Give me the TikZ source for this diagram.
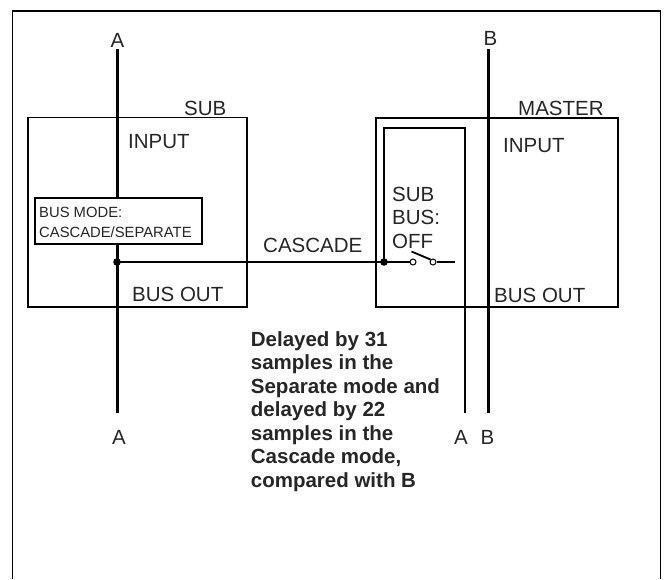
\documentclass[tikz,border=0pt]{standalone}
\usepackage{fontspec}
\setmainfont{Liberation Sans}
\usetikzlibrary{positioning,calc}

\begin{document}
\begin{tikzpicture}[x=1pt,y=-1pt,
  bus/.style={line width=3pt},
  lbl/.style={font=\fontsize{20.5}{23.5}\selectfont,inner sep=0pt,text=black!85},
  small/.style={font=\fontsize{14.8}{20}\selectfont,inner sep=0pt,text=black!85},
  note/.style={font=\fontsize{20.5}{23.5}\selectfont\bfseries,inner sep=0pt,align=left,text=black!85},
  contact/.style={circle,draw,line width=1pt,fill=white,inner sep=0pt,minimum size=6pt}]
\useasboundingbox (0,0) rectangle (664,579);
\draw[line width=1.1pt] (12.5,579) |- (660.5,11) -- (660.5,579);

% units
\node[draw,line width=1.2pt,minimum width=219pt,minimum height=189.5pt] (sub) at (137.5,212.25) {};
\node[draw,line width=1.2pt,minimum width=242pt,minimum height=189pt] (master) at (497,212.5) {};
\node[lbl,anchor=base west] (subname) at (184,115) {SUB};
\node[lbl,anchor=base west] (mastername) at (518,115) {MASTER};
\node[lbl,anchor=base west] (subin) at (128,148) {INPUT};
\node[lbl,anchor=base west] (subout) at (132,301) {BUS OUT};
\node[lbl,anchor=base west] (masterin) at (503,152) {INPUT};
\node[lbl,anchor=base west] (masterout) at (494,302) {BUS OUT};

% bus A through the sub
\coordinate (atop) at (117,49);
\coordinate (abot) at (117,413);
\coordinate (ja) at (117,262);
\draw[bus] (atop) -- (abot);
\node[lbl,anchor=base] (alabel) at (117.5,47) {A};
\node[lbl,anchor=base] (alabel2) at (119,444) {A};

% bus B through the master
\coordinate (btop) at (488,49);
\coordinate (bbot) at (488,413);
\draw[bus] (btop) -- (bbot);
\node[lbl,anchor=base] (blabel) at (490.5,45.5) {B};

\node[draw,line width=1.8pt,fill=white,minimum width=167pt,minimum height=46pt,anchor=north west] (mode) at (34,197) {};
\node[small,anchor=base west] (mode1) at (39,217) {BUS MODE:};
\node[small,anchor=base west] (mode2) at (39,237) {CASCADE/SEPARATE};

% cascade link and switch
\coordinate (jb) at (384,262);
\node[contact] (sw1) at (413,262) {};
\node[contact] (sw2) at (433,262) {};
\coordinate (swend) at (454.5,262);
\coordinate (lever) at (411.5,251.5);
\draw[line width=2.7pt] (ja) -- (jb);
\draw[line width=2.7pt] (jb) -- (sw1);
\draw[line width=2.7pt] (sw2) -- (swend);
\draw[line width=1.8pt] (lever) -- (sw2.north west);
\draw[line width=2.7pt] (jb) |- (465,128) coordinate (corner) -- (465,413) coordinate (a2bot);
\fill (ja) circle (3.8pt);
\fill (jb) circle (3.8pt);
\node[lbl,anchor=base west] (casc) at (263,252) {CASCADE};
\node[lbl,anchor=base west] (off1) at (392,201) {SUB};
\node[lbl,anchor=base west] (off2) at (392,224.5) {BUS:};
\node[lbl,anchor=base west] (off3) at (392,248) {OFF};

\node[lbl,anchor=base] (alabel3) at (461,444) {A};
\node[lbl,anchor=base] (blabel2) at (487.5,444) {B};

\node[note,anchor=north west] (delay) at (250.7,331) {Delayed by 31\\samples in the\\Separate mode and\\delayed by 22\\samples in the\\Cascade mode,\\compared with B};
\end{tikzpicture}
\end{document}
